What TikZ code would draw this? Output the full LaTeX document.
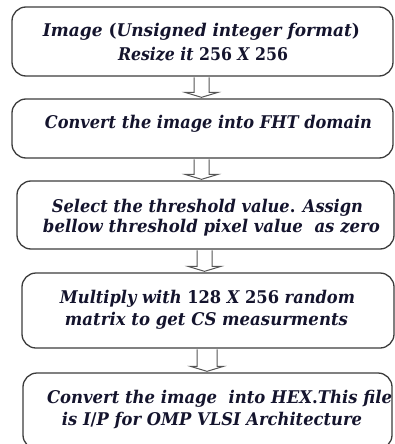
\documentclass[tikz,border=0pt]{standalone}
\usepackage{fontspec}
\usepackage{graphicx}
\setmainfont{DejaVu Serif}
\usetikzlibrary{calc}
\definecolor{boxline}{RGB}{60,60,60}
\definecolor{arrline}{RGB}{85,85,85}
\definecolor{txtcol}{RGB}{20,20,45}
\newcommand{\fitline}[2]{\resizebox{#1pt}{\height}{#2}}
\newcommand{\up}[1]{{\upshape #1}}
\newcommand{\blockarrow}[3]{%
  \path[blockarr] let \p1=(#1.south), \p2=(#2.north) in
    (\x1-1pt-#3,\y1-0.7pt) -- (\x1-1pt-#3,\y2+6pt) -- (\x1-17.5pt,\y2+6pt) --
    (\x1-1pt,\y2+1pt) -- (\x1+15.5pt,\y2+6pt) -- (\x1-1pt+#3,\y2+6pt) --
    (\x1-1pt+#3,\y1-0.7pt);}
\begin{document}
\begin{tikzpicture}[x=1pt,y=-1pt,
  stage/.style={draw=boxline, line width=1.3pt, rounded corners=14pt, inner sep=0pt},
  txt/.style={anchor=base, inner sep=0pt, text=txtcol,
    font=\fontsize{17.5}{20}\selectfont\bfseries\itshape},
  blockarr/.style={draw=arrline, line width=1pt, fill=white, line join=miter}]
\useasboundingbox (0,0) rectangle (395,444);

\node[stage, minimum width=381pt, minimum height=69pt] (b1) at (202.5,41.5) {};
\node[stage, minimum width=381pt, minimum height=59pt] (b2) at (202.5,128.5) {};
\node[stage, minimum width=377pt, minimum height=68pt] (b3) at (205.5,215) {};
\node[stage, minimum width=372pt, minimum height=75pt] (b4) at (208,310.5) {};
\node[stage, minimum width=369pt, minimum height=76pt] (b5) at (207.5,411) {};

\blockarrow{b1}{b2}{7.5pt}
\blockarrow{b2}{b3}{7.5pt}
\blockarrow{b3}{b4}{7.5pt}
\blockarrow{b4}{b5}{10pt}

\node[txt] (t1a) at (201.5,37) {\fitline{317}{Image \up{(}Unsigned integer format\up{)}}};
\node[txt] (t1b) at (203,60) {\fitline{170}{Resize it \up{256} X \up{256}}};
\node[txt] (t2) at (208.5,128) {\fitline{327}{Convert the image into FHT domain}};
\node[txt] (t3a) at (207.5,212) {\fitline{311}{Select the threshold value\up{.} Assign}};
\node[txt] (t3b) at (211.5,232) {\fitline{337}{bellow threshold pixel value\ \ as zero}};
\node[txt] (t4a) at (207.5,303) {\fitline{295}{Multiply with \up{128} X \up{256} random}};
\node[txt] (t4b) at (206.5,325) {\fitline{283}{matrix to get CS measurments}};
\node[txt] (t5a) at (219.5,403) {\fitline{345}{Convert the image\ \ into HEX\up{.}This file}};
\node[txt] (t5b) at (212,425) {\fitline{300}{is I\up{/}P for OMP VLSI Architecture}};
\end{tikzpicture}
\end{document}
